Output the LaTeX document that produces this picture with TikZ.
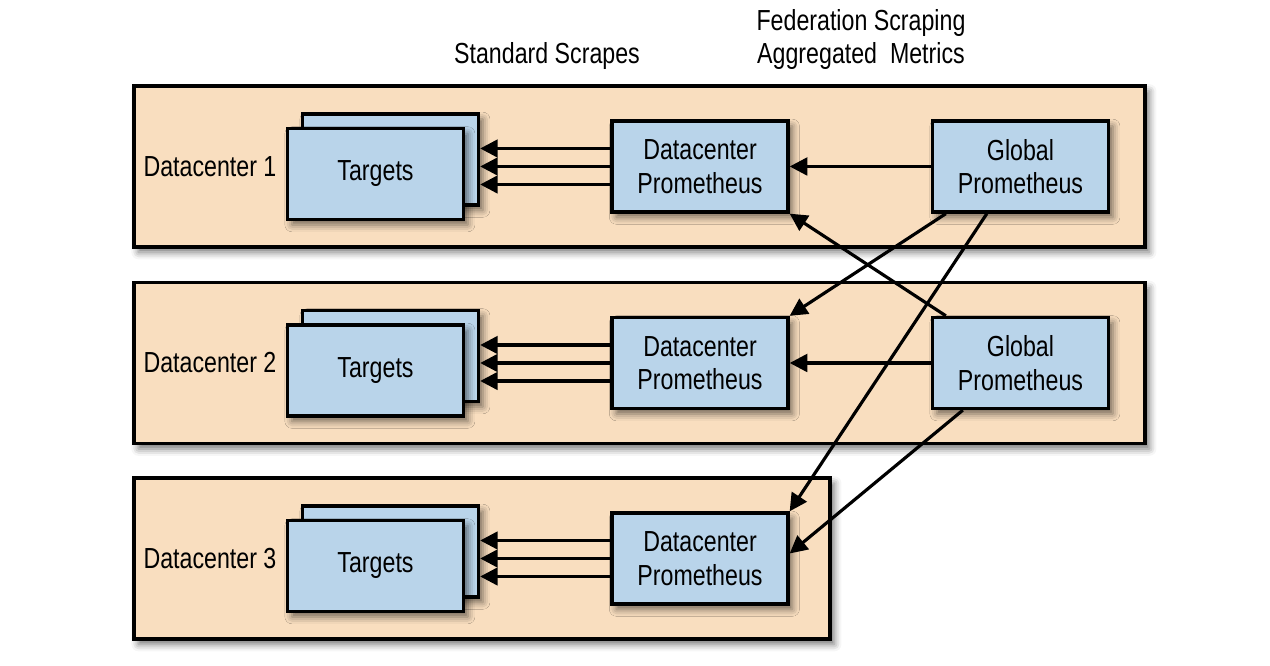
\documentclass[tikz,border=0pt]{standalone}
\usepackage{fontspec}
\setmainfont{Liberation Sans}[FakeStretch=0.8]
\usetikzlibrary{arrows.meta,shadows.blur}
\definecolor{dcfill}{RGB}{249,222,191}
\definecolor{boxfill}{RGB}{185,212,234}
\begin{document}
\begin{tikzpicture}[
    font=\fontsize{16.5}{19}\selectfont,
    soft/.style={blur shadow={shadow xshift=2.5pt, shadow yshift=-3pt, shadow blur radius=4pt, shadow opacity=55}},
    dcbox/.style={draw=black, line width=1.9pt, fill=dcfill, soft, minimum height=3.22cm, inner sep=0pt},
    bluebox/.style={draw=black, line width=1.9pt, fill=boxfill, soft, minimum width=3.52cm, minimum height=1.82cm, align=center, inner sep=0pt},
    arr/.style={line width=1.8pt, -{Triangle[length=10pt,width=10pt]}}
  ]
  \useasboundingbox (0,0) rectangle (25.4,13.32);
  \node (std) at (10.94,12.2) {Standard Scrapes};
  \node[align=center] (fed) at (17.22,12.53) {Federation Scraping\\Aggregated\ \ Metrics};
  \foreach \i/\y/\x/\w in {1/9.99/12.79/20.22, 2/6.06/12.79/20.22, 3/2.15/9.64/13.92} {
    \node[dcbox, minimum width=\w cm] (dc\i) at (\x,\y) {};
    \node (lab\i) at (4.2,\y) {Datacenter \i};
    \node[bluebox] (tb\i) at (7.81,\y+0.14) {};
    \node[bluebox] (tf\i) at (7.51,\y-0.15) {Targets};
    \node[bluebox] (p\i) at (14.0,\y) {Datacenter\\Prometheus};
    \foreach \dy in {-0.36,0,0.36} {
      \path (p\i.west) ++(0,\dy) coordinate (s);
      \draw[arr] (s) -- (s -| tb\i.east);
    }
  }
  \node[bluebox] (g1) at (20.41,9.99) {Global\\Prometheus};
  \node[bluebox] (g2) at (20.41,6.06) {Global\\Prometheus};
  \draw[arr] (g1) -- (p1);
  \draw[arr] (g2) -- (p2);
  \draw[arr] ([xshift=0.3cm]g1.south west) -- (p2.north east);
  \draw[arr] ([xshift=1.12cm]g1.south west) -- (p3.north east);
  \draw[arr] ([xshift=0.3cm]g2.north west) -- (p1.south east);
  \draw[arr] ([xshift=0.64cm]g2.south west) -- ([yshift=0.1cm]p3.east);
\end{tikzpicture}
\end{document}
